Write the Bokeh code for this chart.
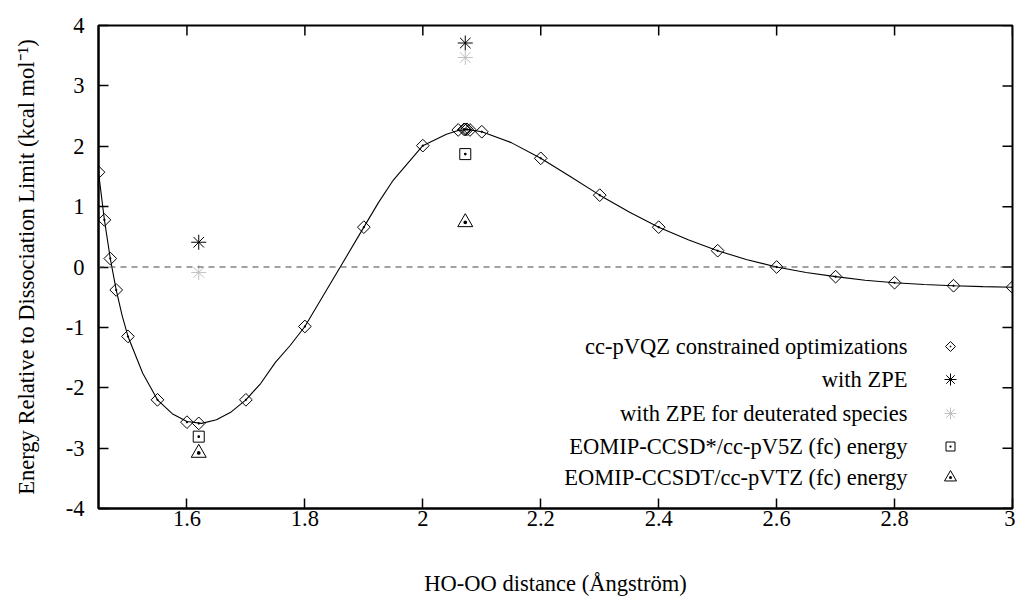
from bokeh.plotting import figure
from bokeh.models import Range1d, FixedTicker, Span, Label
from bokeh.embed import file_html
from bokeh.resources import INLINE
import math

# ---------------- data ----------------
opt_x = [1.45, 1.46, 1.47, 1.48, 1.50, 1.55, 1.60, 1.62, 1.70, 1.80, 1.90, 2.00,
         2.06, 2.07, 2.072, 2.075, 2.08, 2.10, 2.20, 2.30, 2.40, 2.50, 2.60,
         2.70, 2.80, 2.90, 3.00]
opt_y = [1.57, 0.78, 0.14, -0.38, -1.15, -2.20, -2.57, -2.59, -2.20, -0.985, 0.66, 2.01,
         2.27, 2.28, 2.28, 2.28, 2.27, 2.24, 1.80, 1.19, 0.66, 0.27, 0.00,
         -0.16, -0.26, -0.31, -0.335]

# smooth fitted curve
curve_x = [1.45, 1.46, 1.47, 1.48, 1.49, 1.50, 1.525, 1.55, 1.575, 1.60, 1.625, 1.65,
           1.675, 1.70, 1.725, 1.75, 1.775, 1.80, 1.835, 1.86, 1.90, 1.925, 1.95, 2.00,
           2.04, 2.06, 2.075, 2.10, 2.15, 2.20, 2.25, 2.30, 2.35, 2.40, 2.45, 2.50,
           2.55, 2.60, 2.65, 2.70, 2.75, 2.80, 2.85, 2.90, 2.95, 3.00]
curve_y = [1.57, 0.78, 0.14, -0.38, -0.80, -1.15, -1.76, -2.20, -2.43, -2.56, -2.59, -2.53,
           -2.40, -2.20, -1.93, -1.58, -1.30, -0.985, -0.41, 0.00, 0.66, 1.07, 1.44, 2.01,
           2.20, 2.26, 2.28, 2.24, 2.06, 1.80, 1.50, 1.19, 0.91, 0.66, 0.45, 0.27,
           0.12, 0.00, -0.09, -0.16, -0.22, -0.26, -0.29, -0.31, -0.325, -0.335]

special_x = [1.62, 2.072]
zpe_y = [0.41, 3.71]
zpe_d_y = [-0.09, 3.47]
ccsd_y = [-2.81, 1.87]
ccsdt_y = [-3.08, 0.74]

legend_labels = [
    "cc-pVQZ constrained optimizations",
    "with ZPE",
    "with ZPE for deuterated species",
    "EOMIP-CCSD*/cc-pV5Z (fc) energy",
    "EOMIP-CCSDT/cc-pVTZ (fc) energy",
]

x_lo, x_hi = 1.45, 3.0
y_lo, y_hi = -4, 4
x_ticks = [1.6, 1.8, 2.0, 2.2, 2.4, 2.6, 2.8, 3.0]
x_tick_labels = ["1.6", "1.8", "2", "2.2", "2.4", "2.6", "2.8", "3"]
y_ticks = [-4, -3, -2, -1, 0, 1, 2, 3, 4]
y_tick_labels = ["-4", "-3", "-2", "-1", "0", "1", "2", "3", "4"]

x_label = "HO-OO distance (Ångström)"
y_label = "Energy Relative to Dissociation Limit (kcal mol\u207b\u00b9)"

FONT = "Liberation Serif"
FS = "22.5px"
GRAY = "#c0c0c0"
FW, FH = 914, 483

p = figure(frame_width=FW, frame_height=FH,
           x_range=Range1d(x_lo, x_hi), y_range=Range1d(y_lo, y_hi),
           output_backend="svg", toolbar_location=None,
           min_border_left=98, min_border_right=3, min_border_top=25, min_border_bottom=88)
p.grid.visible = False
p.outline_line_color = "black"
p.outline_line_width = 2
p.background_fill_color = "white"
# pixel-space ranges used only to place the legend keys
p.extra_x_ranges = {"px": Range1d(0, FW)}
p.extra_y_ranges = {"py": Range1d(0, FH)}

for ax in (p.xaxis[0], p.yaxis[0]):
    ax.axis_line_width = 2
    ax.axis_line_color = "black"
    ax.major_tick_in = 10
    ax.major_tick_out = 0
    ax.major_tick_line_width = 1.5
    ax.major_tick_line_color = "black"
    ax.minor_tick_line_color = None
    ax.major_label_text_font = FONT
    ax.major_label_text_font_size = FS
    ax.major_label_text_color = "black"
    ax.axis_label_text_font = FONT
    ax.axis_label_text_font_style = "normal"
    ax.axis_label_text_font_size = FS
    ax.axis_label_text_color = "black"

p.xaxis.ticker = FixedTicker(ticks=x_ticks)
p.yaxis.ticker = FixedTicker(ticks=y_ticks)
p.xaxis.major_label_overrides = dict(zip(x_ticks, x_tick_labels))
p.yaxis.major_label_overrides = dict(zip(y_ticks, y_tick_labels))
p.xaxis.axis_label = x_label
p.yaxis.axis_label = y_label
p.xaxis.major_label_standoff = 2
p.xaxis.axis_label_standoff = 42
p.yaxis.major_label_standoff = 14
p.yaxis.axis_label_standoff = 24

# mirrored inward ticks on the top and right borders
p.ray(x=x_ticks, y=[y_hi] * len(x_ticks), length=10, length_units="screen",
      angle=-math.pi / 2, line_color="black", line_width=1.5)
p.ray(x=[x_hi] * len(y_ticks), y=y_ticks, length=10, length_units="screen",
      angle=math.pi, line_color="black", line_width=1.5)

# zero line
p.add_layout(Span(location=0, dimension="width", line_color="#444444",
                  line_dash="6 5", line_width=1))

# curve
p.line(curve_x, curve_y, line_color="black", line_width=1.1)

# markers
def diamonds(x, y, size, **kw):
    return p.scatter(x, y, marker="square_dot", size=size, angle=math.pi / 4,
                     fill_color=None, line_color="black", line_width=1, **kw)

def stars(x, y, size, color, **kw):
    p.scatter(x, y, marker="cross", size=size, line_color=color, line_width=1, **kw)
    p.scatter(x, y, marker="x", size=size, line_color=color, line_width=1, **kw)

def squares(x, y, size, **kw):
    p.scatter(x, y, marker="square_dot", size=size, fill_color=None,
              line_color="black", line_width=1, **kw)

def triangles(x, y, size, **kw):
    p.scatter(x, y, marker="triangle_dot", size=size, fill_color=None,
              line_color="black", line_width=1, **kw)

diamonds(opt_x, opt_y, 9)
stars(special_x, zpe_y, 15, "black")
stars(special_x, zpe_d_y, 15, GRAY)
squares(special_x, ccsd_y, 11)
triangles(special_x, ccsdt_y, 15)

# legend: right aligned text with the key to its right
leg_rows = [162, 129, 95, 62, 31]      # px above frame bottom
leg_key_x = 852                        # px from frame left
leg_text_right = 809
kw = dict(x_range_name="px", y_range_name="py")
diamonds([leg_key_x], [leg_rows[0]], 7, **kw)
stars([leg_key_x], [leg_rows[1]], 12, "black", **kw)
stars([leg_key_x], [leg_rows[2]], 12, GRAY, **kw)
squares([leg_key_x], [leg_rows[3]], 9, **kw)
triangles([leg_key_x], [leg_rows[4]], 12, **kw)
for lab, ry in zip(legend_labels, leg_rows):
    p.add_layout(Label(x=leg_text_right, y=ry, x_units="screen", y_units="screen",
                       text=lab, text_align="right", text_baseline="middle",
                       text_font=FONT, text_font_size=FS, text_color="black"))

open("out.html", "w").write(file_html(p, INLINE))
